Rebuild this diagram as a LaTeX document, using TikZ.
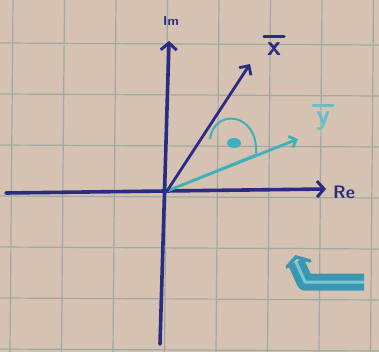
\documentclass[tikz,border=0pt]{standalone}
\usepackage{tikz}
\usetikzlibrary{positioning, arrows.meta, calc}
\definecolor{paper}{RGB}{214,194,178}
\definecolor{gridline}{RGB}{158,170,164}
\definecolor{ink}{RGB}{42,44,132}
\definecolor{cyanink}{RGB}{62,176,188}
\tikzset{
  sheetgrid/.style={draw=gridline, line width=1.2pt},
  axisline/.style={
    draw=ink, line width=3.6pt, line cap=round,
    -{Straight Barb[length=7pt,width=16pt,line width=3pt]}
  },
  vecx/.style={
    draw=ink, line width=2.8pt, line cap=round,
    -{Straight Barb[length=7pt,width=14pt,line width=2.8pt]}
  },
  vecy/.style={
    draw=cyanink, line width=2.8pt, line cap=round,
    -{Straight Barb[length=6pt,width=12pt,line width=2.8pt]}
  },
  axislabel/.style={text=ink, font=\sffamily\bfseries, inner sep=1pt},
  veclabel/.style={font=\fontsize{28}{28}\selectfont\sffamily\bfseries, inner sep=0pt},
  vecbar/.style={line width=2.6pt, line cap=round},
  turnsign/.style={
    draw=cyanink!80!ink, line width=7pt, line join=round,
    double=cyanink!70!white, double distance=3pt
  },
}

\begin{document}
\begin{tikzpicture}[x=1pt, y=-1pt]
  \fill[paper] (0,0) rectangle (379,352);
  \useasboundingbox (0,0) rectangle (379,352);

  % graph paper
  \foreach \gx in {13,64.5,116,167.5,219,270.5,322,373.5} {
    \draw[sheetgrid] (\gx,0) -- (\gx-3,352);
  }
  \foreach \gy in {43,94,145,196,247,298,349} {
    \draw[sheetgrid] (0,\gy) -- (379,\gy+2);
  }

  % axes
  \coordinate (O) at (167,191);
  \coordinate (reL) at (6,193);
  \coordinate (reR) at (326,189);
  \coordinate (imB) at (160,344);
  \coordinate (imT) at (169,41);
  \draw[axisline] (reL) -- (reR);
  \draw[axisline] (imB) -- (imT);
  \node[axislabel, font=\sffamily\bfseries\fontsize{13}{13}\selectfont] (im) at (171,21) {Im};
  \node[axislabel, font=\sffamily\bfseries\fontsize{18}{18}\selectfont, anchor=west] (re) at (332,192) {Re};

  % vectors
  \coordinate (xtip) at (250,64);
  \coordinate (ytip) at (298,139);
  \coordinate (yaux) at (257,154);
  \draw[draw=cyanink!70!paper, line width=2pt] (O) -- (yaux);
  \draw[vecy] (O) -- (ytip);
  \draw[vecx] (O) -- (xtip);
  \node[veclabel, text=ink] (xlab) at (274,49) {x};
  \draw[vecbar, ink] ([shift={(-3pt,6pt)}]xlab.north west) -- ([shift={(3pt,6pt)}]xlab.north east);
  \node[veclabel, text=cyanink!80!white] (ylab) at (323,121) {y};
  \draw[vecbar, cyanink!80!white] ([shift={(-3pt,6pt)}]ylab.north west) -- ([shift={(3pt,6pt)}]ylab.north east);

  % angle between them
  \draw[cyanink, line width=2pt]
    (210,139) .. controls (214,108) and (258,112) .. (256,153);
  \fill[cyanink] (234,143) ellipse (7pt and 5pt);

  % turning sign
  \coordinate (s1) at (364,282);
  \coordinate (s2) at (305,282);
  \coordinate (s3) at (296,262);
  \draw[turnsign] (s1) -- (s2) -- (s3);
  \draw[cyanink!80!ink, line width=3.5pt, line cap=round]
    (287,267) -- (296,257) -- (310,261);
\end{tikzpicture}
\end{document}
